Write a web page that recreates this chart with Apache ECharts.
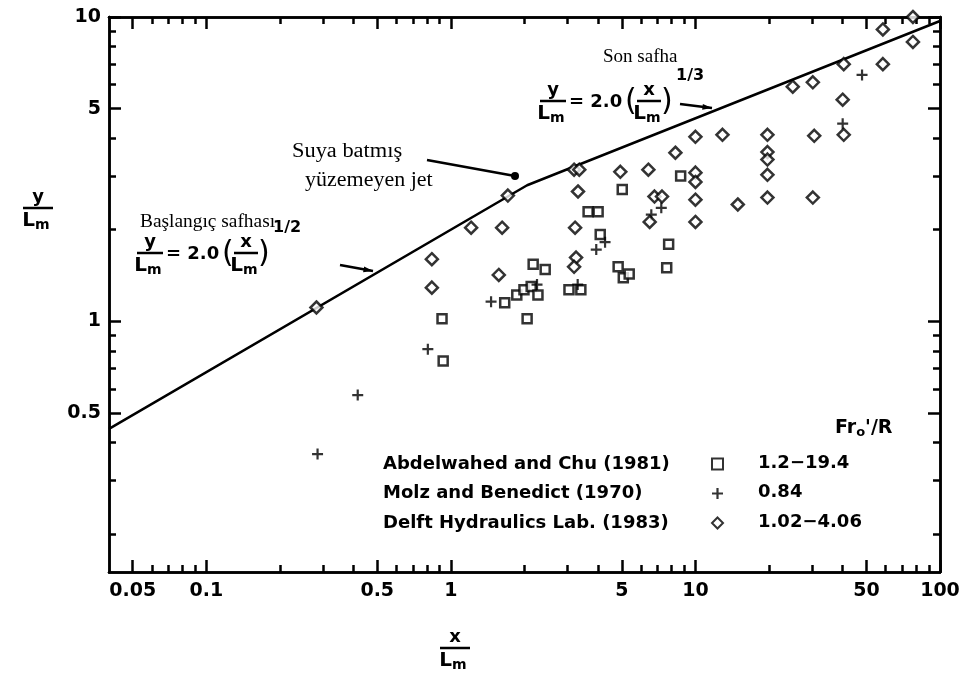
<!DOCTYPE html>
<html lang="tr">
<head>
<meta charset="UTF-8">
<title>y/Lm - x/Lm</title>
<script src="https://cdn.jsdelivr.net/npm/echarts@6/dist/echarts.min.js"></script>
<style>
  html, body { margin: 0; padding: 0; background: #fff; }
  #chart { width: 965px; height: 689px; }
</style>
</head>
<body>
<div id="chart"></div>
<script>
// --- veriler (log-log grafikten okunan x/Lm, y/Lm) ---
const abdelX = [0.92, 0.93, 1.66, 1.86, 1.99, 2.05, 2.13, 2.17, 2.27, 2.43, 3.04, 3.4, 3.64, 4.0, 4.08, 4.83, 5.07, 5.02, 5.36, 7.63, 7.77, 8.7];
const abdelY = [1.02, 0.74, 1.15, 1.22, 1.27, 1.02, 1.30, 1.54, 1.22, 1.48, 1.27, 1.27, 2.29, 2.29, 1.93, 1.51, 1.39, 2.71, 1.43, 1.50, 1.79, 3.0];

const molzX = [0.285, 0.416, 0.805, 1.46, 2.25, 3.3, 3.93, 4.27, 6.6, 7.25, 40, 48];
const molzY = [0.366, 0.572, 0.81, 1.16, 1.32, 1.32, 1.72, 1.82, 2.24, 2.36, 4.46, 6.45];

const delftX = [0.282, 0.836, 0.836, 1.21, 1.57, 1.62, 1.71, 3.19, 3.35, 3.31, 3.22, 3.25, 3.19, 4.93, 6.42, 6.8, 7.3, 6.5, 8.28, 10, 10, 10, 10, 10, 12.9, 14.9, 19.7, 19.7, 19.7, 19.7, 19.7, 25, 30.2, 30.2, 30.6, 40.4, 40, 40.4, 58.4, 58.4, 77.5, 77.5];
const delftY = [1.11, 1.60, 1.29, 2.03, 1.42, 2.03, 2.59, 3.15, 3.15, 2.67, 2.03, 1.62, 1.51, 3.10, 3.15, 2.57, 2.57, 2.12, 3.58, 3.08, 2.87, 2.51, 2.12, 4.04, 4.1, 2.42, 4.1, 3.6, 3.4, 3.03, 2.55, 5.9, 6.1, 2.55, 4.07, 7.0, 5.35, 4.1, 7.0, 9.1, 8.28, 10];

// teorik egri (baslangic 1/2, son 1/3)
const curveX = [0.04, 2.05, 100];
const curveY = [0.443, 2.8, 9.7];

// eksen isaretleri
const xLabels = [0.05, 0.1, 0.5, 1, 5, 10, 50, 100];
const xMinor = [0.06, 0.07, 0.08, 0.09, 0.2, 0.3, 0.4, 0.6, 0.7, 0.8, 0.9, 2, 3, 4, 6, 7, 8, 9, 20, 30, 40, 60, 70, 80, 90];
const yLabels = [0.5, 1, 5, 10];
const yMinor = [0.2, 0.3, 0.4, 0.6, 0.7, 0.8, 0.9, 2, 3, 4, 6, 7, 8, 9];

const seriesNames = ['Abdelwahed and Chu (1981)', 'Molz and Benedict (1970)', 'Delft Hydraulics Lab. (1983)'];
const ranges = ['1.2\u221219.4', '0.84', '1.02\u22124.06'];

const lg = Math.log10;
const pairs = (xs, ys) => xs.map((x, i) => [lg(x), lg(ys[i])]);
const FONT = 'DejaVu Sans';
const SERIF = 'Liberation Serif';

function axisDef(kind, pos, major, labels) {
    const isX = kind === 'x';
    return {
        type: 'value',
        position: pos,
        offset: 0,
        min: isX ? lg(0.04) : lg(0.15),
        max: isX ? 2 : 1,
        axisLine: { show: true, onZero: false, lineStyle: { color: '#000', width: 2.5 } },
        axisTick: {
            show: true, inside: true, length: major ? 12 : 7,
            customValues: (major ? (isX ? xLabels : yLabels) : (isX ? xMinor : yMinor)).map(lg),
            lineStyle: { color: '#000', width: 2.5 }
        },
        axisLabel: {
            show: labels,
            customValues: (isX ? xLabels : yLabels).map(lg),
            formatter: v => String(parseFloat(Math.pow(10, v).toPrecision(3))),
            color: '#000', fontFamily: FONT, fontSize: 19, fontWeight: 'bold',
            margin: isX ? 10 : 8
        },
        splitLine: { show: false }
    };
}

// kesir yazisi: pay / L_m
function frac(cx, cy, num, w) {
    return [
        { type: 'text', x: cx, y: cy - 2, style: { text: num, font: 'bold 18px ' + FONT, fill: '#000', align: 'center', verticalAlign: 'bottom' } },
        { type: 'line', shape: { x1: cx - w / 2, y1: cy, x2: cx + w / 2, y2: cy }, style: { stroke: '#000', lineWidth: 2.5 } },
        { type: 'text', x: cx - 2, y: cy + 1, style: { text: '{l|L}{m|m}', align: 'center', verticalAlign: 'top', rich: { l: { font: 'bold 20px ' + FONT, fill: '#000' }, m: { font: 'bold 14px ' + FONT, fill: '#000', padding: [9, 0, 0, 0] } } } }
    ];
}

function formula(x0, cy, power) {
    return [].concat(
        frac(x0 + 13, cy, 'y', 26),
        [{ type: 'text', x: x0 + 29, y: cy + 1, style: { text: '= 2.0', font: 'bold 18px ' + FONT, fill: '#000', verticalAlign: 'middle' } },
         { type: 'text', x: x0 + 85, y: cy + 1, style: { text: '(', font: '30px ' + FONT, fill: '#000', verticalAlign: 'middle' } },
         { type: 'text', x: x0 + 121, y: cy + 1, style: { text: ')', font: '30px ' + FONT, fill: '#000', verticalAlign: 'middle' } },
         { type: 'text', x: x0 + 136, y: cy - 25, style: { text: power, font: 'bold 16px ' + FONT, fill: '#000', verticalAlign: 'middle' } }],
        frac(x0 + 109, cy, 'x', 24)
    );
}

function arrow(x1, y1, x2, y2) {
    const a = Math.atan2(y2 - y1, x2 - x1);
    const h = 10;
    return [
        { type: 'line', shape: { x1: x1, y1: y1, x2: x2, y2: y2 }, style: { stroke: '#000', lineWidth: 2.5 } },
        { type: 'polygon', shape: { points: [[x2, y2], [x2 - h * Math.cos(a - 0.3), y2 - h * Math.sin(a - 0.3)], [x2 - h * Math.cos(a + 0.3), y2 - h * Math.sin(a + 0.3)]] }, style: { fill: '#000' } }
    ];
}

function serif(x, y, text, size, sx) {
    return { type: 'text', x: x, y: y, scaleX: sx, style: { text: text, font: size + 'px ' + SERIF, fill: '#000', verticalAlign: 'middle' } };
}

const annotations = [].concat(
    // eksen adlari
    frac(38, 208, 'y', 30),
    frac(455, 648, 'x', 30),
    // son safha
    [serif(603, 57, 'Son safha', 19, 1.0)],
    formula(540, 101, '1/3'),
    arrow(680, 104, 712, 108),
    // suya batmis yuzemeyen jet
    [serif(292, 152, 'Suya batmış', 20, 1.12),
     serif(305, 181, 'yüzemeyen jet', 20, 1.1),
     { type: 'line', shape: { x1: 427, y1: 160, x2: 515, y2: 176 }, style: { stroke: '#000', lineWidth: 2.5 } },
     { type: 'circle', shape: { cx: 515, cy: 176, r: 4 }, style: { fill: '#000' } }],
    // baslangic safhasi
    [serif(140, 222, 'Başlangıç safhası', 19, 1.02)],
    formula(137, 253, '1/2'),
    arrow(340, 265, 373, 271),
    // legend basligi ve aralik degerleri
    [{ type: 'text', x: 835, y: 428, style: { text: "{a|Fr}{b|o}{a|'/R}", verticalAlign: 'middle', rich: { a: { font: 'bold 19px ' + FONT, fill: '#000' }, b: { font: 'bold 13px ' + FONT, fill: '#000', padding: [9, 0, 0, 0] } } } }],
    ranges.map((r, i) => ({ type: 'text', x: 758, y: 463 + i * 29.5, style: { text: r, font: 'bold 18px ' + FONT, fill: '#000', verticalAlign: 'middle' } }))
);

const chart = echarts.init(document.getElementById('chart'));
chart.setOption({
    backgroundColor: '#fff',
    animation: false,
    grid: { left: 109, right: 25, top: 17, bottom: 117 },
    xAxis: [axisDef('x', 'bottom', true, true), axisDef('x', 'bottom', false, false), axisDef('x', 'top', true, false), axisDef('x', 'top', false, false)],
    yAxis: [axisDef('y', 'left', true, true), axisDef('y', 'left', false, false), axisDef('y', 'right', true, false), axisDef('y', 'right', false, false)],
    legend: {
        orient: 'vertical', align: 'right', left: 383, top: 455, padding: 0,
        itemWidth: 11, itemHeight: 11, itemGap: 11.5,
        data: seriesNames,
        formatter: name => '{t|' + name + '}',
        textStyle: { rich: { t: { width: 324, align: 'left', fontFamily: FONT, fontSize: 18, fontWeight: 'bold', lineHeight: 20, color: '#000' } } }
    },
    series: [
        { name: seriesNames[0], type: 'scatter', data: pairs(abdelX, abdelY), symbol: 'rect', symbolSize: 9,
          itemStyle: { color: '#fff', borderColor: '#000', borderWidth: 2.5 } },
        { name: seriesNames[1], type: 'scatter', data: pairs(molzX, molzY), symbol: 'path://M4,0H6V4H10V6H6V10H4V6H0V4H4Z', symbolSize: 11,
          itemStyle: { color: '#000' } },
        { name: seriesNames[2], type: 'scatter', data: pairs(delftX, delftY), symbol: 'diamond', symbolSize: 12,
          itemStyle: { color: '#fff', borderColor: '#000', borderWidth: 2.5 } },
        { type: 'line', data: pairs(curveX, curveY), symbol: 'none', lineStyle: { color: '#000', width: 2.5 }, z: 1 }
    ],
    graphic: annotations
});
</script>
</body>
</html>
